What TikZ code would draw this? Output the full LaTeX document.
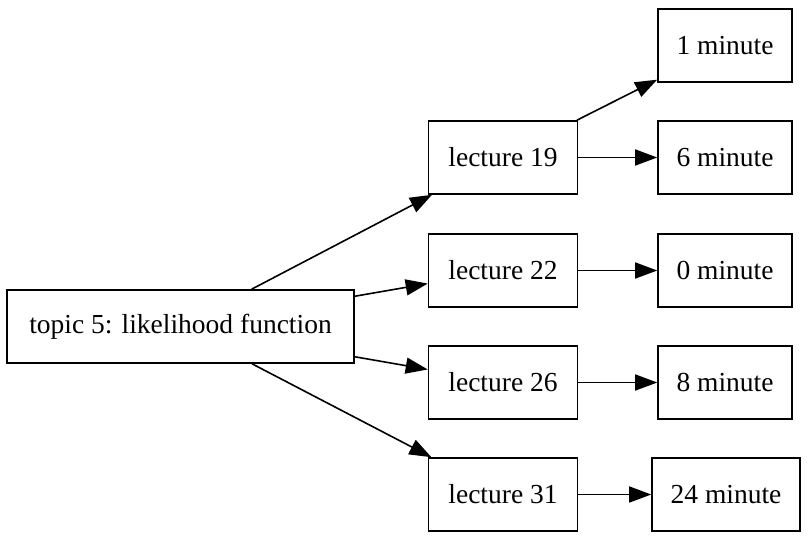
\documentclass[tikz,border=0pt]{standalone}
\usepackage{fontspec}
\setmainfont{Liberation Serif}
\usetikzlibrary{arrows.meta}
\begin{document}
\begin{tikzpicture}[x=1pt,y=-1pt,
  box/.style={draw,line width=1.6pt,inner sep=0pt,minimum height=73pt,font=\fontsize{27.5}{33}\selectfont},
  conn/.style={line width=1.6pt,-{Triangle[length=22pt,width=16pt]}}]
\useasboundingbox (0,0) rectangle (808,542);
\node[box,minimum width=347pt] (topic) at (180.5,326.5) {topic 5: likelihood function};
\node[box,minimum width=149pt] (l19) at (503,157.5) {lecture 19};
\node[box,minimum width=149pt] (l22) at (503,270.5) {lecture 22};
\node[box,minimum width=149pt] (l26) at (503,382.5) {lecture 26};
\node[box,minimum width=149pt] (l31) at (503,494.5) {lecture 31};
\node[box,minimum width=134pt] (m1) at (725,45.5) {1 minute};
\node[box,minimum width=134pt] (m6) at (725,157.5) {6 minute};
\node[box,minimum width=134pt] (m0) at (725,270.5) {0 minute};
\node[box,minimum width=134pt] (m8) at (725,382.5) {8 minute};
\node[box,minimum width=148pt] (m24) at (726,494.5) {24 minute};
\draw[conn] (topic) -- (l19);
\draw[conn] (topic) -- (l22);
\draw[conn] (topic) -- (l26);
\draw[conn] (topic) -- (l31);
\draw[conn] (l19) -- (m1);
\draw[conn] (l19) -- (m6);
\draw[conn] (l22) -- (m0);
\draw[conn] (l26) -- (m8);
\draw[conn] (l31) -- (m24);
\end{tikzpicture}
\end{document}
